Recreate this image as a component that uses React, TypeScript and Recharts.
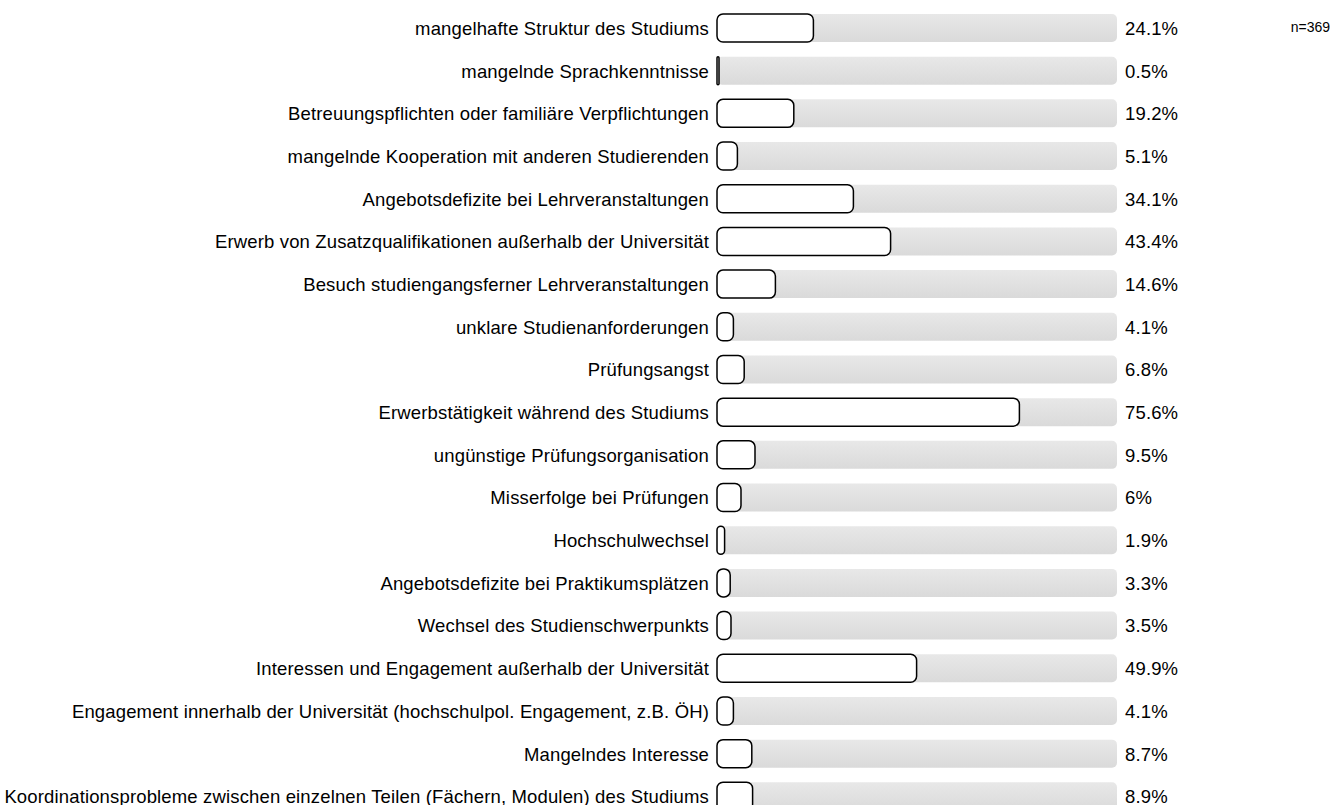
import { Bar, BarChart, XAxis, YAxis } from "recharts";

const labels = [
  "mangelhafte Struktur des Studiums",
  "mangelnde Sprachkenntnisse",
  "Betreuungspflichten oder familiäre Verpflichtungen",
  "mangelnde Kooperation mit anderen Studierenden",
  "Angebotsdefizite bei Lehrveranstaltungen",
  "Erwerb von Zusatzqualifikationen außerhalb der Universität",
  "Besuch studiengangsferner Lehrveranstaltungen",
  "unklare Studienanforderungen",
  "Prüfungsangst",
  "Erwerbstätigkeit während des Studiums",
  "ungünstige Prüfungsorganisation",
  "Misserfolge bei Prüfungen",
  "Hochschulwechsel",
  "Angebotsdefizite bei Praktikumsplätzen",
  "Wechsel des Studienschwerpunkts",
  "Interessen und Engagement außerhalb der Universität",
  "Engagement innerhalb der Universität (hochschulpol. Engagement, z.B. ÖH)",
  "Mangelndes Interesse",
  "Koordinationsprobleme zwischen einzelnen Teilen (Fächern, Modulen) des Studiums",
];

const percents = [
  24.1, 0.5, 19.2, 5.1, 34.1, 43.4, 14.6, 4.1, 6.8, 75.6, 9.5, 6, 1.9, 3.3, 3.5, 49.9, 4.1, 8.7, 8.9,
];

const sampleSize = "n=369";

const data = labels.map((label, i) => ({ label, value: percents[i] }));

const fmt = (v: number) => (Number.isInteger(v) ? `${v}%` : `${v.toFixed(1)}%`);

const font = {
  fontFamily: "'Liberation Sans', Arial, sans-serif",
  fontSize: 18.5,
  letterSpacing: 0.15,
  fill: "#000",
};

export default function App() {
  return (
    <div
      style={{
        position: "fixed",
        left: 0,
        top: 0,
        width: 1338,
        height: 805,
        overflow: "hidden",
        background: "#fff",
      }}
    >
      <BarChart
        width={1338}
        height={830}
        data={data}
        layout="vertical"
        margin={{ top: 7, right: 0, bottom: 12, left: 0 }}
        barSize={28}
      >
        <defs>
          <linearGradient id="bgGrad" x1="0" y1="0" x2="0" y2="1">
            <stop offset="0%" stopColor="#e8e8e8" />
            <stop offset="100%" stopColor="#dadada" />
          </linearGradient>
        </defs>
        <XAxis type="number" domain={[0, 100]} hide />
        <YAxis
          yAxisId="left"
          type="category"
          dataKey="label"
          width={717}
          axisLine={false}
          tickLine={false}
          tickSize={6}
          tickMargin={2}
          interval={0}
          tick={font}
        />
        <YAxis
          yAxisId="right"
          orientation="right"
          type="category"
          dataKey="label"
          width={221}
          axisLine={false}
          tickLine={false}
          tickSize={6}
          tickMargin={2}
          interval={0}
          tick={{ ...font, textAnchor: "start" }}
          tickFormatter={(_v: string, i: number) => fmt(percents[i])}
        />
        <Bar
          yAxisId="left"
          dataKey="value"
          fill="#fff"
          stroke="#000"
          strokeWidth={1.5}
          radius={6}
          background={{ fill: "url(#bgGrad)", radius: 5 } as any}
          isAnimationActive={false}
        />
      </BarChart>
      <div
        style={{
          position: "absolute",
          right: 8,
          top: 19,
          fontFamily: "'Liberation Sans', Arial, sans-serif",
          fontSize: 14,
          color: "#000",
        }}
      >
        {sampleSize}
      </div>
    </div>
  );
}
